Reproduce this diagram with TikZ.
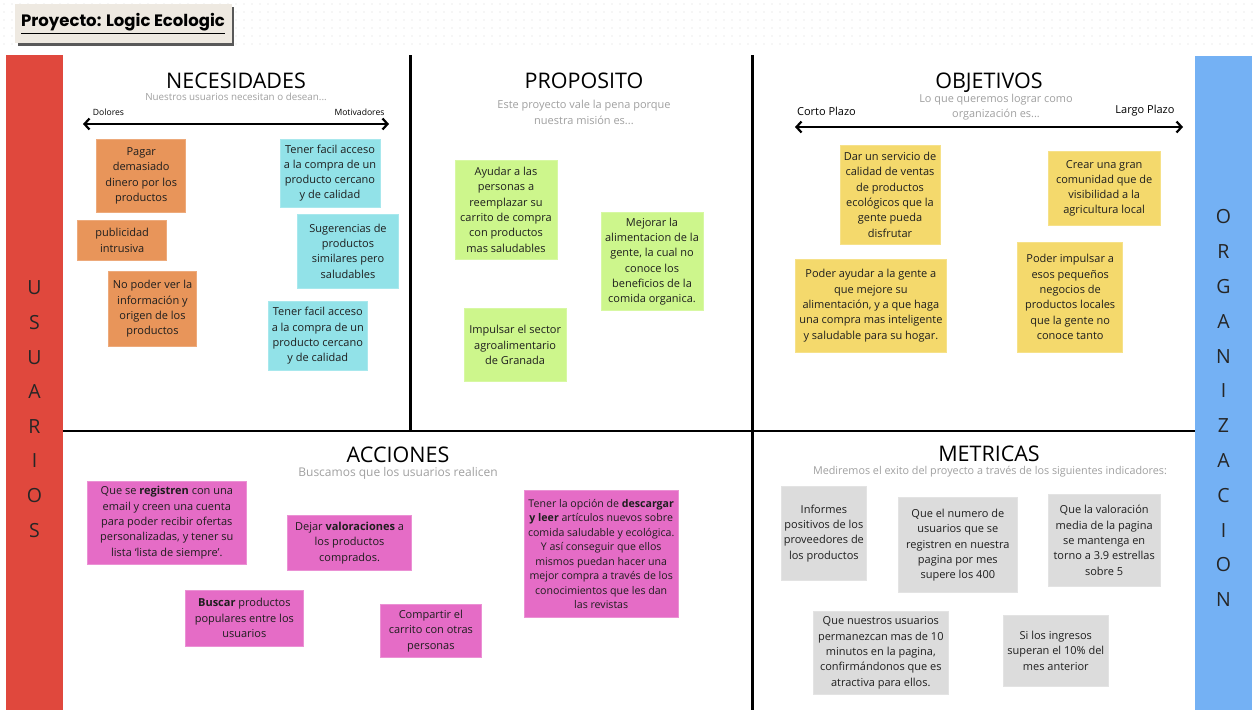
\documentclass[tikz,border=0pt]{standalone}
\usepackage{fontspec}
\setmainfont{Open Sans}
\newfontfamily\titlefont{Poppins}
\usetikzlibrary{arrows.meta}

\definecolor{barred}{HTML}{E0483D}
\definecolor{barblue}{HTML}{74B1F4}
\definecolor{cOrange}{HTML}{E8955A}
\definecolor{cCyan}{HTML}{92E2E8}
\definecolor{cGreen}{HTML}{CDF68C}
\definecolor{cYellow}{HTML}{F4D96C}
\definecolor{cPink}{HTML}{E56CC6}
\definecolor{cGray}{HTML}{DCDCDC}
\definecolor{subgray}{HTML}{A0A0A0}
\definecolor{inkdark}{HTML}{1E1E1E}
\definecolor{titlebg}{HTML}{EEE9E1}

\tikzset{
  sticky/.style={rectangle, inner sep=0pt, align=center, text=inkdark,
    font=\fontsize{11}{15.3}\selectfont, line width=0.8pt},
  onote/.style={sticky, fill=cOrange, draw=cOrange!80!white},
  cnote/.style={sticky, fill=cCyan, draw=cCyan!80!white},
  gnote/.style={sticky, fill=cGreen, draw=cGreen!80!white},
  ynote/.style={sticky, fill=cYellow, draw=cYellow!80!white},
  pnote/.style={sticky, fill=cPink, draw=cPink!75!white},
  mnote/.style={sticky, fill=cGray, draw=cGray!80!white},
  sectitle/.style={font=\fontsize{21.5}{24}\selectfont, text=black, inner sep=0pt, anchor=base},
  subtitle/.style={text=subgray, inner sep=0pt, align=center},
  barletter/.style={font=\fontsize{19.5}{22}\selectfont, text=black!85, inner sep=0pt},
  divider/.style={line width=2.3pt, black},
  spanarrow/.style={line width=2.2pt, {Straight Barb[length=5pt,width=11pt]}-{Straight Barb[length=5pt,width=11pt]}},
  axislabel/.style={inner sep=0pt, text=black}
}

% sticky note given by its corners (x1,y1) and (x2,y2)
\newcommand\stickynote[7]{%
  \pgfmathsetmacro\nbW{#5-#3}\pgfmathsetmacro\nbH{#6-#4}%
  \pgfmathsetmacro\nbX{(#3+#5)/2}\pgfmathsetmacro\nbY{(#4+#6)/2}%
  \node[#2, minimum width=\nbW pt, minimum height=\nbH pt] (#1) at (\nbX,\nbY) {#7};}

\begin{document}
\begin{tikzpicture}[x=1pt, y=-1pt]
\useasboundingbox (0,0) rectangle (1258,710);

% dotted canvas above the board
\fill[white] (0,0) rectangle (1258,710);
\foreach \gx in {4,12,...,1258}{
  \foreach \gy in {4,12,...,48}{
    \fill[black!14] (\gx,\gy) circle (0.7pt);
  }
}
\fill[white] (0,51) rectangle (1258,710);

% project title card
\fill[black!65] (17.5,6.5) rectangle (234,45.5);
\fill[titlebg] (15,4) rectangle (231.7,43.3);
\node[font=\titlefont\bfseries\fontsize{16.5}{18}\selectfont, inner sep=0pt] (title) at (123,23.5) {\underline{Proyecto: Logic Ecologic}};

% side bars
\fill[barred] (5.5,54.5) rectangle (63.3,710);
\fill[barblue] (1194.7,55.5) rectangle (1252.3,710);
\foreach \ch [count=\i from 0] in {U,S,U,A,R,I,O,S}{
  \node[barletter] (usr\i) at (34.5,{288+34.6*\i}) {\ch};
}
\foreach \ch [count=\i from 0] in {O,R,G,A,N,I,Z,A,C,I,O,N}{
  \node[barletter] (org\i) at (1223.5,{217+34.8*\i}) {\ch};
}

% quadrant dividers
\coordinate (hL) at (63.3,431);
\coordinate (hR) at (1194.7,431);
\coordinate (vAt) at (410.5,55);
\coordinate (vAb) at (410.5,431);
\coordinate (vBt) at (752.5,55);
\coordinate (vBb) at (752.5,710);
\draw[divider] (hL) -- (hR);
\draw[divider] (vAt) -- (vAb);
\draw[divider] (vBt) -- (vBb);

% section headings
\node[sectitle] (necT) at (236,88) {NECESIDADES};
\node[subtitle, font=\fontsize{9.8}{11}\selectfont] (necS) at (236,97) {Nuestros usuarios necesitan o desean...};
\node[sectitle] (proT) at (584,88) {PROPOSITO};
\node[subtitle, font=\fontsize{11}{16}\selectfont] (proS) at (584,112) {Este proyecto vale la pena porque\\nuestra misión es...};
\node[sectitle] (objT) at (989,88) {OBJETIVOS};
\node[subtitle, font=\fontsize{10.9}{15}\selectfont] (objS) at (996,107.5) {Lo que queremos lograr como\\organización es...};
\node[sectitle] (accT) at (398,462) {ACCIONES};
\node[subtitle, font=\fontsize{12}{13}\selectfont] (accS) at (398,473) {Buscamos que los usuarios realicen};
\node[sectitle] (metT) at (989,461.5) {METRICAS};
\node[subtitle, font=\fontsize{10.8}{12}\selectfont] (metS) at (990,472) {Mediremos el exito del proyecto a través de los siguientes indicadores:};

% axes
\node[axislabel, font=\fontsize{8.6}{10}\selectfont] (dol) at (108.5,112) {Dolores};
\node[axislabel, font=\fontsize{8.6}{10}\selectfont] (mot) at (359.5,112) {Motivadores};
\coordinate (necA) at (83,124);
\coordinate (necB) at (389,124);
\draw[spanarrow] (necA) -- (necB);
\node[axislabel, font=\fontsize{11}{12}\selectfont] (corto) at (826.5,111) {Corto Plazo};
\node[axislabel, font=\fontsize{11}{12}\selectfont] (largo) at (1145,111) {Largo Plazo};
\coordinate (objA) at (795,127);
\coordinate (objB) at (1183,127);
\draw[spanarrow] (objA) -- (objB);

% NECESIDADES
\stickynote{n1}{onote}{96.7}{139}{185.7}{212.7}{Pagar\\demasiado\\dinero por los\\productos}
\stickynote{n2}{onote}{77.7}{220}{166.7}{260.7}{publicidad\\intrusiva}
\stickynote{n3}{onote}{108.3}{271.7}{196.7}{346}{No poder ver la\\información y\\origen de los\\productos}
\stickynote{n4}{cnote}{280}{139}{380}{207.3}{Tener facil acceso\\a la compra de un\\producto cercano\\y de calidad}
\stickynote{n5}{cnote}{297.7}{214}{398.3}{288.3}{Sugerencias de\\productos\\similares pero\\saludables}
\stickynote{n6}{cnote}{268.3}{301.7}{367.3}{370}{Tener facil acceso\\a la compra de un\\producto cercano\\y de calidad}

% PROPOSITO
\stickynote{p1}{gnote}{455}{160}{557}{259.3}{Ayudar a las\\personas a\\reemplazar su\\carrito de compra\\con productos\\mas saludables}
\stickynote{p2}{gnote}{601}{212.3}{703}{310.7}{Mejorar la\\alimentacion de la\\gente, la cual no\\conoce los\\beneficios de la\\comida organica.}
\stickynote{p3}{gnote}{464}{308.3}{566.3}{381.7}{Impulsar el sector\\agroalimentario\\de Granada}

% OBJETIVOS
\stickynote{o1}{ynote}{840}{145.3}{940}{244.3}{Dar un servicio de\\calidad de ventas\\de productos\\ecológicos que la\\gente pueda\\disfrutar}
\stickynote{o2}{ynote}{1048.3}{151}{1160}{225.7}{Crear una gran\\comunidad que de\\visibilidad a la\\agricultura local}
\stickynote{o3}{ynote}{795}{259.3}{946.7}{352}{Poder ayudar a la gente a\\que mejore su\\alimentación, y a que haga\\una compra mas inteligente\\y saludable para su hogar.}
\stickynote{o4}{ynote}{1017.7}{242}{1122.7}{352}{Poder impulsar a\\esos pequeños\\negocios de\\productos locales\\que la gente no\\conoce tanto}

% ACCIONES
\stickynote{a1}{pnote}{86.9}{481}{246.7}{564.3}{Que se \textbf{registren} con una\\email y creen una cuenta\\para poder recibir ofertas\\personalizadas, y tener su\\lista ‘lista de siempre’.}
\stickynote{a2}{pnote}{287.7}{515.7}{411.4}{570}{Dejar \textbf{valoraciones} a\\los productos\\comprados.}
\stickynote{a3}{pnote}{185.7}{590}{303}{646}{\textbf{Buscar} productos\\populares entre los\\usuarios}
\stickynote{a4}{pnote}{380}{604.3}{481.7}{657.7}{Compartir el\\carrito con otras\\personas}
\stickynote{a5}{pnote, font=\fontsize{10.6}{14.5}\selectfont}{523.9}{490}{678.5}{617.7}{Tener la opción de \textbf{descargar}\\\textbf{y leer} artículos nuevos sobre\\comida saludable y ecológica.\\Y así conseguir que ellos\\mismos puedan hacer una\\mejor compra a través de los\\conocimientos que les dan\\las revistas}

% METRICAS
\stickynote{m1}{mnote}{781}{486.7}{866.7}{580}{Informes\\positivos de los\\proveedores de\\los productos}
\stickynote{m2}{mnote}{898.3}{497.7}{1017.3}{592.7}{Que el numero de\\usuarios que se\\registren en nuestra\\pagina por mes\\supere los 400}
\stickynote{m3}{mnote}{1048.3}{494}{1160}{586.7}{Que la valoración\\media de la pagina\\se mantenga en\\torno a 3.9 estrellas\\sobre 5}
\stickynote{m4}{mnote}{813.3}{611.7}{948.3}{694}{Que nuestros usuarios\\permanezcan mas de 10\\minutos en la pagina,\\confirmándonos que es\\atractiva para ellos.}
\stickynote{m5}{mnote}{1003.3}{615}{1108.3}{686.7}{Si los ingresos\\superan el 10\% del\\mes anterior}

\end{tikzpicture}
\end{document}
